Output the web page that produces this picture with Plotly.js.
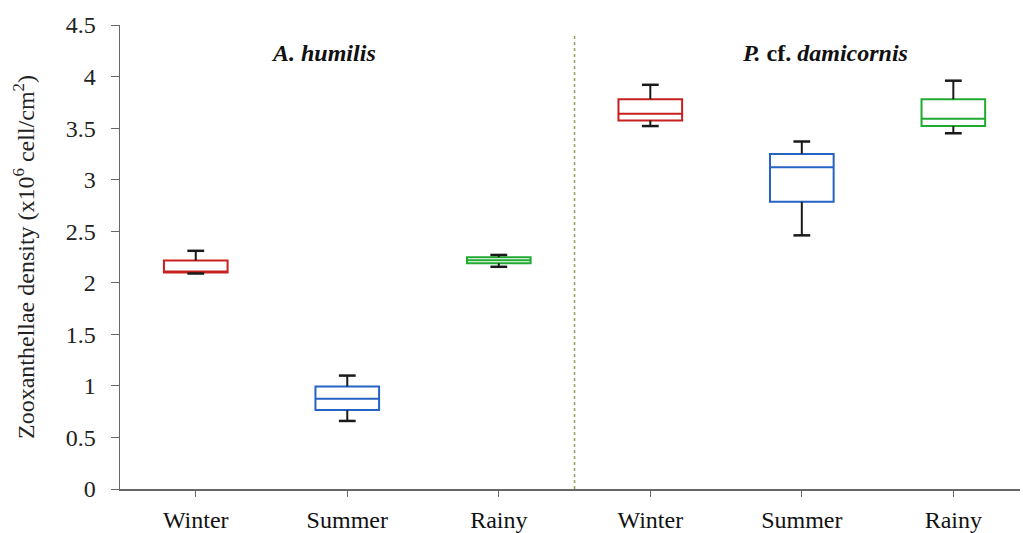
<!DOCTYPE html>
<html><head><meta charset="utf-8">
<script src="https://cdn.plot.ly/plotly-3.0.1.min.js"></script>
<style>html,body{margin:0;padding:0;background:#fff}#chart{width:1023px;height:533px}</style>
</head><body><div id="chart"></div>
<script>
// positions 1..6 : A. humilis (Winter, Summer, Rainy), P. cf. damicornis (Winter, Summer, Rainy)
const tickLabels = ['Winter','Summer','Rainy','Winter','Summer','Rainy'];
const positions = [1,2,3,4,5,6];
const seasons = ['Winter','Summer','Rainy'];
const colors = {Winter:'#c8201e', Summer:'#2563c4', Rainy:'#20aa30'};
// per season: [A. humilis, P. cf. damicornis]
const xpos = {Winter:[1,4], Summer:[2,5], Rainy:[3,6]};
const lower  = {Winter:[2.09,3.52], Summer:[0.66,2.46], Rainy:[2.155,3.45]};
const q1     = {Winter:[2.10,3.575], Summer:[0.765,2.785], Rainy:[2.19,3.52]};
const median = {Winter:[2.11,3.64], Summer:[0.875,3.12], Rainy:[2.218,3.59]};
const q3     = {Winter:[2.215,3.78], Summer:[0.995,3.25], Rainy:[2.247,3.78]};
const upper  = {Winter:[2.31,3.92], Summer:[1.10,3.37], Rainy:[2.27,3.96]};

const traces = [];
seasons.forEach(s => {
  traces.push({
    type:'box', x:xpos[s], q1:q1[s], median:median[s], q3:q3[s],
    lowerfence:q1[s], upperfence:q3[s], width:0.42,
    fillcolor:'#ffffff', line:{color:colors[s], width:2},
    whiskerwidth:0, hoverinfo:'skip', showlegend:false
  });
});
seasons.forEach(s => {
  const wx=[], wy=[], cx=[], cy=[];
  xpos[s].forEach((x,i) => {
    wx.push(x,x,null,x,x,null);
    wy.push(q3[s][i],upper[s][i],null,q1[s][i],lower[s][i],null);
    cx.push(x,x); cy.push(upper[s][i],lower[s][i]);
  });
  traces.push({type:'scatter', mode:'lines', x:wx, y:wy, line:{color:'#1a1a1a', width:2}, hoverinfo:'skip', showlegend:false});
  traces.push({type:'scatter', mode:'markers', x:cx, y:cy, marker:{symbol:'line-ew-open', size:12, color:'#1a1a1a', line:{color:'#1a1a1a', width:2.5}}, hoverinfo:'skip', showlegend:false});
});

const layout = {
  width:1023, height:533,
  margin:{l:120, r:3, t:25, b:44},
  paper_bgcolor:'#fff', plot_bgcolor:'#fff',
  font:{family:'Liberation Serif, Times New Roman, serif', color:'#222'},
  xaxis:{range:[0.5,6.44], tickvals:positions, ticktext:tickLabels,
    showgrid:false, zeroline:false, showline:true, linecolor:'#666', linewidth:2,
    ticks:'outside', ticklen:6, tickcolor:'#666', tickfont:{size:24, color:'#111'}, ticklabelstandoff:2},
  yaxis:{range:[0,4.5], dtick:0.5, showgrid:false, zeroline:false, showline:true, linecolor:'#666', linewidth:1.5,
    ticks:'outside', ticklen:8, tickcolor:'#666', tickfont:{size:24, color:'#222'}, ticklabelstandoff:10,
    title:{text:'Zooxanthellae density (x10<sup>6</sup> cell/cm<sup>2</sup>)', font:{size:24, color:'#222'}, standoff:24}},
  shapes:[{type:'line', xref:'x', yref:'y', x0:3.5, x1:3.5, y0:0, y1:4.42, line:{color:'#9c9c5a', width:1.5, dash:'dot'}}],
  annotations:[
    {xref:'x', yref:'paper', x:1.84, y:0.94, text:'<b><i>A. humilis</i></b>', showarrow:false, font:{size:24, color:'#111'}, yanchor:'middle'},
    {xref:'x', yref:'paper', x:5.15, y:0.94, text:'<b><i>P.</i> cf. <i>damicornis</i></b>', showarrow:false, font:{size:24, color:'#111'}, yanchor:'middle'}
  ]
};
Plotly.newPlot('chart', traces, layout, {displayModeBar:false, staticPlot:true});
</script></body></html>
